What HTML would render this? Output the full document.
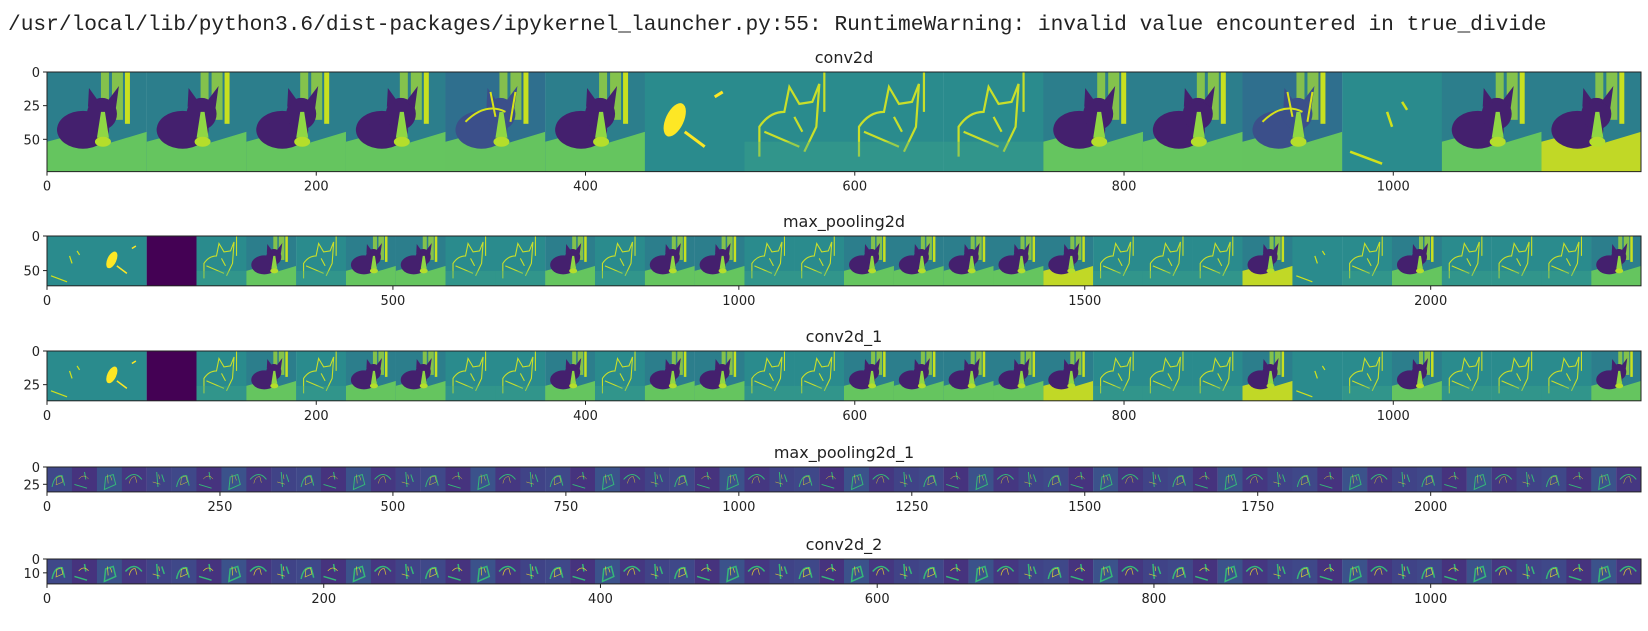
<!DOCTYPE html>
<html><head><meta charset="utf-8">
<style>
html,body{margin:0;padding:0;background:#fff;width:1648px;height:631px;overflow:hidden}
#warn{position:absolute;left:8px;top:12px;font-family:"Liberation Mono",monospace;font-size:21.2px;color:#222;white-space:pre;line-height:26px}
svg text{font-family:"DejaVu Sans","Liberation Sans",sans-serif;fill:#222}
</style></head>
<body>
<div id="warn">/usr/local/lib/python3.6/dist-packages/ipykernel_launcher.py:55: RuntimeWarning: invalid value encountered in true_divide</div>
<svg id="fig" width="1648" height="631" style="position:absolute;left:0;top:0"></svg>
<script>
const panelTitles = ['conv2d','max_pooling2d','conv2d_1','max_pooling2d_1','conv2d_2'];
const panelExtents = [1184, 2304, 1184, 2304, 1152];
const panelHeights = [74, 72, 37, 36, 18];
const panelTileCounts = [16, 32, 32, 64, 64];
const xTicks = [[0,200,400,600,800,1000],[0,500,1000,1500,2000],[0,200,400,600,800,1000],[0,250,500,750,1000,1250,1500,1750,2000],[0,200,400,600,800,1000]];
const yTicks = [[0,25,50],[0,50],[0,25],[0,25],[0,10]];
const tilesP1 = ['cat','cat','cat','cat','edgecat','cat','blob','edge','edge','edge','cat','cat','edgecat','sparse','cat','catY'];
const tilesP2 = ['sparse','blob','dark','edge','cat','edge','cat','cat','edge','edge','cat','edge','cat','cat','edge','edge','cat','cat','cat','cat','catY','edge','edge','edge','catY','sparse','edge','cat','edge','edge','edge','cat'];
const tilesP3 = tilesP2.slice();
const tilesP4 = Array(64).fill('deep');
const tilesP5 = Array(64).fill('deep2');
const panelTiles = [tilesP1, tilesP2, tilesP3, tilesP4, tilesP5];
const axesTop = [72, 236, 351, 467, 559];

const NS = 'http://www.w3.org/2000/svg';
const fig = document.getElementById('fig');
const L = 47, R = 1641;
function mk(tag, attrs, parent){ const e=document.createElementNS(NS,tag); for(const k in attrs) e.setAttribute(k,attrs[k]); (parent||fig).appendChild(e); return e; }

function drawTile(g, type, v){
  // tile in 0..100 coordinates
  if(type==='dark'){ mk('rect',{x:0,y:0,width:100,height:100,fill:'#440154'},g); return; }
  if(type==='cat'||type==='catY'||type==='edgecat'){
    const bg = type==='edgecat' ? '#2f6f8e' : '#2c7e8c';
    mk('rect',{x:0,y:0,width:100,height:100,fill:bg},g);
    mk('rect',{x:54,y:0,width:22,height:48,fill:'#a2da37','fill-opacity':0.75},g);
    mk('rect',{x:78,y:0,width:5,height:52,fill:'#c8e020'},g);
    mk('rect',{x:62,y:0,width:3,height:50,fill:'#2c7e8c'},g);
    const floor = type==='catY' ? '#d2e21b' : '#6ccd5a';
    mk('polygon',{points:'0,70 30,62 60,72 100,60 100,100 0,100',fill:floor,'fill-opacity':0.9},g);
    const cat = type==='edgecat' ? '#3b4f8a' : '#44206e';
    mk('ellipse',{cx:36,cy:58,rx:26,ry:19,fill:cat},g);
    mk('ellipse',{cx:55,cy:42,rx:15,ry:16,fill:cat},g);
    mk('polygon',{points:'41,35 42,16 52,30',fill:cat},g);
    mk('polygon',{points:'60,30 72,14 69,36',fill:cat},g);
    mk('polygon',{points:'54,40 58,40 62,66 50,66',fill:'#8fd744'},g);
    mk('ellipse',{cx:56,cy:70,rx:8,ry:5,fill:'#b5de2b'},g);
    if(type==='edgecat') mk('path',{d:'M20,50 Q40,30 60,40 M45,20 L50,45 M70,20 L65,50',stroke:'#d8e219','stroke-width':2,fill:'none'},g);
    return;
  }
  if(type==='edge'||type==='sparse'||type==='blob'){
    mk('rect',{x:0,y:0,width:100,height:100,fill:'#2a8b8d'},g);
    if(type==='edge'){
      mk('path',{d:'M15,85 L15,55 Q25,40 40,40 L45,15 L55,32 L68,30 L75,12 L72,55 L60,80 M20,60 L55,75 M50,45 L58,60 M80,0 L80,40',stroke:'#c9df2a','stroke-width':2.2,fill:'none'},g);
      mk('rect',{x:0,y:70,width:100,height:30,fill:'#3fa88a','fill-opacity':0.35},g);
    } else if(type==='blob'){
      mk('ellipse',{cx:30,cy:48,rx:9,ry:18,fill:'#fde725',transform:'rotate(25 30 48)'},g);
      mk('path',{d:'M40,60 L60,75 M70,25 L78,20',stroke:'#fde725','stroke-width':3,fill:'none'},g);
    } else {
      mk('path',{d:'M8,80 L40,92 M45,40 L50,55 M60,30 L65,38',stroke:'#d0e11c','stroke-width':2.5,fill:'none'},g);
    }
    return;
  }
  // deep tiles
  const bgs=['#3f4889','#46337e','#3b528b','#453781','#404387'];
  mk('rect',{x:0,y:0,width:100,height:100,fill:bgs[v%5]},g);
  const paths=['M20,80 Q30,30 60,35 L70,75','M10,70 L60,85 M50,20 L55,50','M30,90 L35,40 L65,30 L75,70 Z','M15,50 Q50,10 80,50','M40,20 L45,80 M60,30 L70,60'];
  const sw = type==='deep2' ? 6 : 4;
  mk('path',{d:paths[v%5],stroke:'#35b779','stroke-width':sw,fill:'none'},g);
  mk('path',{d:paths[(v+2)%5],stroke:'#fde725','stroke-width':sw*0.8,fill:'none','stroke-opacity':0.8,transform:'scale(0.6) translate(30,30)'},g);
}

panelTitles.forEach((title,p)=>{
  const ext = panelExtents[p];
  const sx = (R-L)/ext;
  const xs = v => L + v*sx;
  const ys = v => axesTop[p] + v*sx;
  const top = axesTop[p], bot = ys(panelHeights[p]);
  const ax = mk('g',{});
  
  
  const tiles = panelTiles[p];
  const tw = ext / tiles.length;
  tiles.forEach((t,i)=>{
    const s = mk('svg',{x:xs(i*tw),y:top,width:tw*sx+0.3,height:bot-top,viewBox:'0 0 100 100',preserveAspectRatio:'none'},ax);
    
    
    drawTile(s,t,i);
  });
  mk('rect',{x:L,y:top,width:R-L,height:bot-top,fill:'none',stroke:'#222','stroke-width':1},ax);
  const tt = mk('text',{x:(L+R)/2,y:top-9,'text-anchor':'middle','font-size':16},ax);
  tt.textContent = title;
  
  
  xTicks[p].forEach(v=>{
    mk('line',{x1:xs(v),x2:xs(v),y1:bot,y2:bot+4,stroke:'#222'},ax);
    const t = mk('text',{x:xs(v),y:bot+19,'text-anchor':'middle','font-size':13},ax);
    t.textContent = v;
    
    
  });
  yTicks[p].forEach(v=>{
    mk('line',{x1:L-4,x2:L,y1:ys(v),y2:ys(v),stroke:'#222'},ax);
    const t = mk('text',{x:L-7,y:ys(v)+5,'text-anchor':'end','font-size':13},ax);
    t.textContent = v;
    
    
  });
});
</script>
</body></html>
